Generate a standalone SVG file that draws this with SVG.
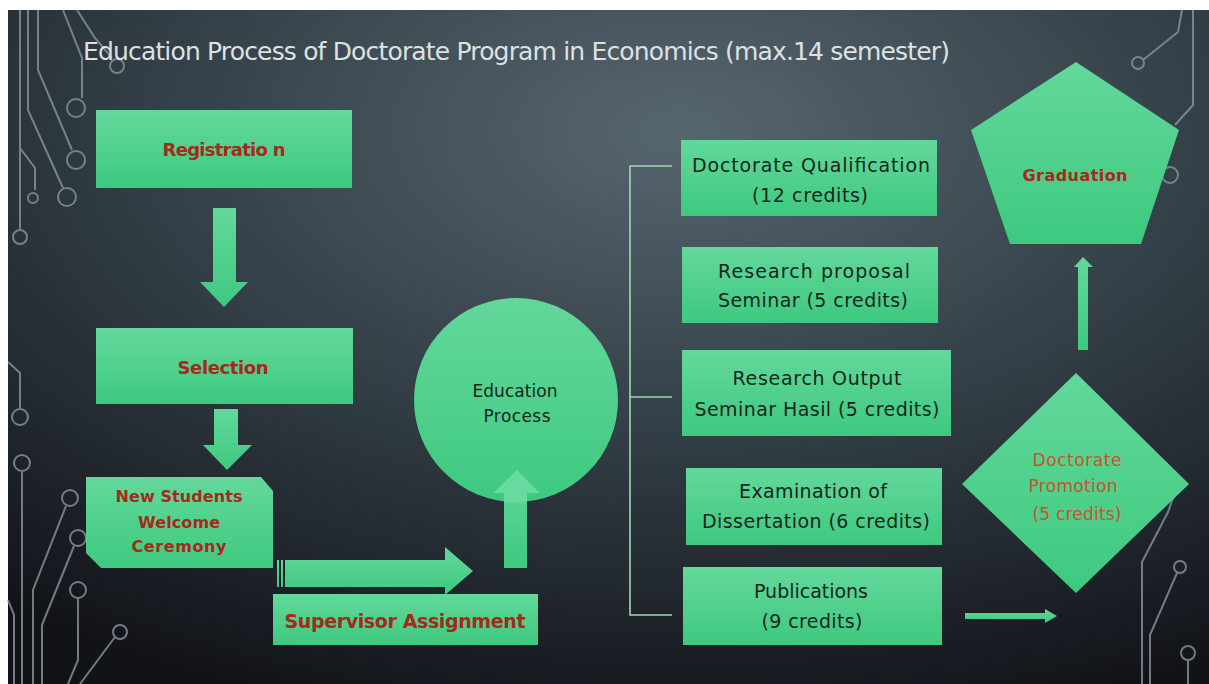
<svg xmlns="http://www.w3.org/2000/svg" width="1209" height="684" viewBox="0 0 1209 684">
<style>
.g{fill:url(#gf)}
.lbl{font-family:"DejaVu Sans","Liberation Sans",sans-serif;font-weight:bold;fill:#a8281c;text-anchor:middle}
.dk{font-family:"DejaVu Sans","Liberation Sans",sans-serif;fill:#17261d;text-anchor:middle}
.pr{font-family:"DejaVu Sans","Liberation Sans",sans-serif;fill:#c9532c;text-anchor:middle}
.cir{fill:none;stroke:#8a959b;stroke-width:2;opacity:0.8}
.br{fill:none;stroke:#9fd8b8;stroke-width:1.6}
</style>
<defs>
<radialGradient id="bg" cx="0.56" cy="0.18" r="0.9">
<stop offset="0" stop-color="#56666f"/>
<stop offset="0.45" stop-color="#36424a"/>
<stop offset="1" stop-color="#111318"/>
</radialGradient>
<linearGradient id="gf" x1="0" y1="0" x2="0" y2="1">
<stop offset="0" stop-color="#63d89b"/>
<stop offset="1" stop-color="#3ec97f"/>
</linearGradient>
</defs>
<rect width="1209" height="684" fill="#ffffff"/>
<rect x="8" y="10" width="1201" height="674" fill="url(#bg)"/>
<g id="circuit" class="cir">
<path d="M20 10 V230"/>
<circle cx="20" cy="237" r="7"/>
<path d="M28 10 V110 L63 188"/>
<circle cx="67" cy="197" r="9"/>
<path d="M38 10 V70 L72 150"/>
<circle cx="76" cy="160" r="9"/>
<path d="M63 10 L82 58 V98"/>
<circle cx="76" cy="108" r="9"/>
<path d="M77 10 L95 38 L112 58"/>
<circle cx="117" cy="66" r="7"/>
<path d="M20 148 L35 168 V190"/>
<circle cx="33" cy="198" r="5"/>
<path d="M8 362 L20 373 V408"/>
<circle cx="20" cy="417" r="8"/>
<circle cx="22" cy="463" r="8"/>
<path d="M22 471 V684"/>
<circle cx="70" cy="498" r="8"/>
<path d="M66 506 L33 590 V684"/>
<circle cx="78" cy="538" r="8"/>
<path d="M74 546 L42 625 V684"/>
<circle cx="78" cy="590" r="8"/>
<path d="M78 598 V660 L68 684"/>
<circle cx="120" cy="632" r="7"/>
<path d="M115 637 L80 684"/>
<path d="M8 600 L14 615 V684"/>
<path d="M1182 10 L1178 32 L1143 60"/>
<circle cx="1138" cy="63" r="6"/>
<path d="M1193 10 V105 L1175 125"/>
<circle cx="1170" cy="175" r="8"/>
<path d="M1173 498 L1168 512 L1142 562 V684"/>
<circle cx="1180" cy="567" r="6"/>
<path d="M1177 573 L1150 635 V684"/>
<circle cx="1188" cy="653" r="7"/>
<path d="M1188 660 V684"/>
</g>
<text x="83" y="60" font-family="DejaVu Sans, Liberation Sans, sans-serif" font-size="25" fill="#dde1e1" textLength="867">Education Process of Doctorate Program in Economics (max.14 semester)</text>
<g id="connectors">
<polygon class="g" points="213,208 236,208 236,282 248,282 224,307 200,282 213,282"/>
<polygon class="g" points="214,409 238,409 238,445 252,445 227,470 203,445 214,445"/>
<rect class="g" x="277" y="560" width="2" height="27"/>
<rect class="g" x="281" y="560" width="2" height="27"/>
<polygon class="g" points="285,560 445,560 445,547 473,571 445,595 445,587 285,587"/>
<polygon class="g" points="504,568 504,493 493,493 517,470 540,493 527,493 527,568"/>
<path class="br" d="M672 166 H630 V615 H672 M630 397 H672"/>
<polygon class="g" points="965,613 1045,613 1045,609 1057,616 1045,623 1045,619 965,619"/>
<polygon class="g" points="1078,350 1078,267 1074,267 1083,257 1093,267 1088,267 1088,350"/>
</g>
<g id="registration">
<rect class="g" x="96" y="110" width="256" height="78"/>
<text class="lbl" x="224" y="156" font-size="18" textLength="123">Registratio n</text>
</g>
<g id="selection">
<rect class="g" x="96" y="328" width="257" height="76"/>
<text class="lbl" x="223" y="374" font-size="18" textLength="91">Selection</text>
</g>
<g id="welcome">
<polygon class="g" points="86,477 261,477 273,491 273,568 101,568 86,553"/>
<text class="lbl" x="179" y="502" font-size="16" textLength="127">New Students</text>
<text class="lbl" x="179" y="528" font-size="16" textLength="82">Welcome</text>
<text class="lbl" x="179" y="552" font-size="16" textLength="95">Ceremony</text>
</g>
<g id="supervisor">
<rect class="g" x="273" y="594" width="265" height="51"/>
<text class="lbl" x="405" y="628" font-size="19" textLength="241">Supervisor Assignment</text>
</g>
<g id="education">
<circle class="g" cx="516" cy="400" r="102"/>
<polygon fill="#6cdca3" opacity="0.9" points="504,502 504,493 493,493 517,470 540,493 527,493 527,502"/>
<text class="dk" x="515" y="397" font-size="17" textLength="85">Education</text>
<text class="dk" x="517" y="422" font-size="17" textLength="67">Process</text>
</g>
<g id="qualification">
<rect class="g" x="681" y="140" width="256" height="76"/>
<text class="dk" x="811" y="172" font-size="19" textLength="238">Doctorate Qualification</text>
<text class="dk" x="810" y="202" font-size="19" textLength="116">(12 credits)</text>
</g>
<g id="proposal">
<rect class="g" x="682" y="247" width="256" height="76"/>
<text class="dk" x="814" y="278" font-size="19" textLength="192">Research proposal</text>
<text class="dk" x="813" y="307" font-size="19" textLength="190">Seminar (5 credits)</text>
</g>
<g id="output">
<rect class="g" x="682" y="350" width="269" height="86"/>
<text class="dk" x="817" y="385" font-size="19" textLength="169">Research Output</text>
<text class="dk" x="817" y="416" font-size="19" textLength="245">Seminar Hasil (5 credits)</text>
</g>
<g id="examination">
<rect class="g" x="686" y="468" width="256" height="77"/>
<text class="dk" x="813" y="498" font-size="19" textLength="148">Examination of</text>
<text class="dk" x="816" y="528" font-size="19" textLength="228">Dissertation (6 credits)</text>
</g>
<g id="publications">
<rect class="g" x="683" y="567" width="259" height="78"/>
<text class="dk" x="811" y="598" font-size="19" textLength="114">Publications</text>
<text class="dk" x="812" y="628" font-size="19" textLength="101">(9 credits)</text>
</g>
<g id="promotion">
<polygon class="g" points="1076,373 1189,484 1076,593 962,484"/>
<text class="pr" x="1077" y="466" font-size="17" textLength="89">Doctorate</text>
<text class="pr" x="1073" y="492" font-size="17" textLength="89">Promotion</text>
<text class="pr" x="1077" y="520" font-size="17" textLength="89">(5 credits)</text>
</g>
<g id="graduation">
<polygon class="g" points="1076,62 1179,130 1141,244 1010,244 971,130"/>
<text class="lbl" x="1075" y="181" font-size="16" textLength="105">Graduation</text>
</g>
</svg>
